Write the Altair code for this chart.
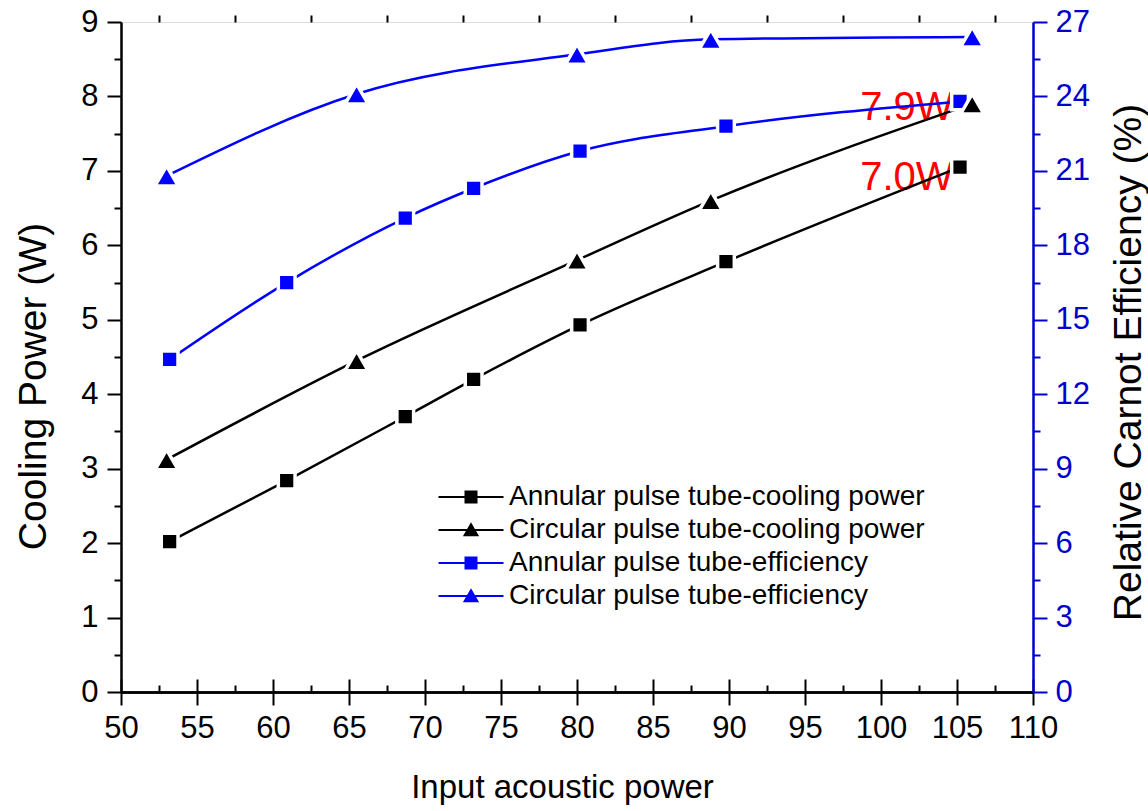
import altair as alt
import pandas as pd

FONT = "Liberation Sans"
BLUE = "#0000ff"
AXIS_BLUE = "#0000cc"

# ---- data ----
power_annular = [53.2, 60.9, 68.7, 73.2, 80.2, 89.8, 105.2]
cooling_annular = [2.02, 2.84, 3.70, 4.20, 4.93, 5.78, 7.05]
eff_annular = [13.4, 16.5, 19.1, 20.3, 21.8, 22.8, 23.8]

power_circular = [53.0, 65.5, 80.0, 88.8, 106.0]
cooling_circular = [3.12, 4.45, 5.80, 6.60, 7.90]
eff_circular = [20.8, 24.1, 25.7, 26.3, 26.4]

series_names = [
    "Annular pulse tube-cooling power",
    "Circular pulse tube-cooling power",
    "Annular pulse tube-efficiency",
    "Circular pulse tube-efficiency",
]
series_colors = ["#000000", "#000000", BLUE, BLUE]

annot_x = [101.7, 101.7]
annot_y = [7.85, 6.9]
annot_text = ["7.9W", "7.0W"]

x_major_ticks = [50, 55, 60, 65, 70, 75, 80, 85, 90, 95, 100, 105, 110]
x_minor_ticks = [52.5, 57.5, 62.5, 67.5, 72.5, 77.5, 82.5, 87.5, 92.5, 97.5, 102.5, 107.5]
yl_major_ticks = [0, 1, 2, 3, 4, 5, 6, 7, 8, 9]
yl_minor_ticks = [0.5, 1.5, 2.5, 3.5, 4.5, 5.5, 6.5, 7.5, 8.5]
yr_major_ticks = [0, 3, 6, 9, 12, 15, 18, 21, 24, 27]
yr_minor_ticks = [1.5, 4.5, 7.5, 10.5, 13.5, 16.5, 19.5, 22.5, 25.5]

# ---- tables ----
rows = []
for px, v in zip(power_annular, cooling_annular):
    rows.append({"power": px, "value": v, "series": series_names[0], "kind": "cool", "marker": "square"})
for px, v in zip(power_circular, cooling_circular):
    rows.append({"power": px, "value": v, "series": series_names[1], "kind": "cool", "marker": "triangle"})
for px, v in zip(power_annular, eff_annular):
    rows.append({"power": px, "value": v, "series": series_names[2], "kind": "eff", "marker": "square"})
for px, v in zip(power_circular, eff_circular):
    rows.append({"power": px, "value": v, "series": series_names[3], "kind": "eff", "marker": "triangle"})
df = pd.DataFrame(rows)

cool = df[df["kind"] == "cool"]
eff = df[df["kind"] == "eff"]
cool_sq = cool[cool["marker"] == "square"]
cool_tr = cool[cool["marker"] == "triangle"]
eff_sq = eff[eff["marker"] == "square"]
eff_tr = eff[eff["marker"] == "triangle"]
annot = pd.DataFrame({"x": annot_x, "y": annot_y, "label": annot_text})

W, H = 912, 670
xscale = alt.Scale(domain=[50, 110], nice=False, zero=False)
yl_scale = alt.Scale(domain=[0, 9], nice=False, zero=False)
yr_scale = alt.Scale(domain=[0, 27], nice=False, zero=False)

common_tick = dict(grid=False, tickWidth=2)

ax_x_major = alt.Axis(values=x_major_ticks, title="Input acoustic power", titleFont=FONT,
                      titleFontSize=33, titleFontWeight="normal", titleColor="black",
                      titleX=441, titleY=95, titleBaseline="middle", titleAlign="center",
                      labelFont=FONT, labelFontSize=31, labelColor="black", labelPadding=8,
                      labelFlush=False, labelOverlap=False, tickSize=13, tickColor="black",
                      domainColor="black", domainWidth=2.5, **common_tick)
ax_x_minor = alt.Axis(values=x_minor_ticks, title=None, labels=False, domain=False,
                      tickSize=7, tickColor="black", **common_tick)
ax_x_top_major = alt.Axis(values=x_major_ticks, title=None, labels=False, domain=True,
                          domainColor="black", domainWidth=2.5, offset=-H,
                          tickSize=13, tickColor="black", **common_tick)
ax_x_top_minor = alt.Axis(values=x_minor_ticks, title=None, labels=False, domain=False,
                          offset=-H, tickSize=7, tickColor="black", **common_tick)

ax_yl_major = alt.Axis(values=yl_major_ticks, orient="left", title="Cooling Power (W)",
                       titleFont=FONT, titleFontSize=39, titleFontWeight="normal",
                       titleColor="black", titleAngle=270, titleX=-88, titleY=364,
                       titleBaseline="middle", titleAlign="center",
                       labelFont=FONT, labelFontSize=31, labelColor="black", labelPadding=9,
                       labelFlush=False, labelOverlap=False, tickSize=14, tickColor="black",
                       domainColor="black", domainWidth=2.5, **common_tick)
ax_yl_minor = alt.Axis(values=yl_minor_ticks, orient="left", title=None, labels=False,
                       domain=False, tickSize=7, tickColor="black", **common_tick)
ax_yr_major = alt.Axis(values=yr_major_ticks, orient="right", title="Relative Carnot Efficiency (%)",
                       titleFont=FONT, titleFontSize=39, titleFontWeight="normal",
                       titleColor="black", titleAngle=270, titleX=95, titleY=340,
                       titleBaseline="middle", titleAlign="center",
                       labelFont=FONT, labelFontSize=31, labelColor=AXIS_BLUE, labelPadding=8,
                       labelFlush=False, labelOverlap=False, tickSize=14, tickColor=AXIS_BLUE,
                       domainColor=AXIS_BLUE, domainWidth=2.5, **common_tick)
ax_yr_minor = alt.Axis(values=yr_minor_ticks, orient="right", title=None, labels=False,
                       domain=False, tickSize=7, tickColor=AXIS_BLUE, **common_tick)


def X(axis, field="power:Q"):
    return alt.X(field, scale=xscale, axis=axis)


def YL(axis, field="value:Q"):
    return alt.Y(field, scale=yl_scale, axis=axis)


def YR(axis, field="value:Q"):
    return alt.Y(field, scale=yr_scale, axis=axis)


text_layer = alt.Chart(annot).mark_text(color="#ff0000", font=FONT, fontSize=40,
                                        align="center", baseline="middle").encode(
    x=X(None, "x:Q"), y=YL(None, "y:Q"), text="label:N")

black_lines = alt.Chart(cool).mark_line(color="black", strokeWidth=2.5, interpolate="monotone").encode(
    x=X(ax_x_major), y=YL(ax_yl_major), detail="series:N", order="power:Q")
blue_lines = alt.Chart(eff).mark_line(color=BLUE, strokeWidth=2.5, interpolate="monotone").encode(
    x=X(ax_x_minor), y=YR(ax_yr_major), detail="series:N", order="power:Q")

pt = dict(filled=True, opacity=1, stroke="white", strokeWidth=3.5, strokeOpacity=1)
blue_sq = alt.Chart(eff_sq).mark_point(shape="square", size=280, fill=BLUE, **pt).encode(
    x=X(ax_x_top_major), y=YR(ax_yr_minor))
blue_tr = alt.Chart(eff_tr).mark_point(shape="triangle-up", size=540, fill=BLUE, **pt).encode(
    x=X(ax_x_top_minor), y=YR(None))
black_sq = alt.Chart(cool_sq).mark_point(shape="square", size=280, fill="black", **pt).encode(
    x=X(None), y=YL(ax_yl_minor))
black_tr = alt.Chart(cool_tr).mark_point(shape="triangle-up", size=540, fill="black", **pt).encode(
    x=X(None), y=YL(None))

sq_path = "M-5.0,-0.17H5.0V0.17H-5.0Z M-1,-1H1V1H-1Z"
tr_path = "M-5.0,-0.17H5.0V0.17H-5.0Z M0,-1.2L1.25,0.95L-1.25,0.95Z"
legend_paths = [sq_path, tr_path, sq_path, tr_path]

leg = alt.Legend(title=None, orient="none", legendX=336, legendY=461, labelFont=FONT,
                 labelFontSize=28, labelColor="black", labelOffset=24, labelLimit=0,
                 rowPadding=5, padding=0, symbolSize=169, symbolStrokeWidth=0, symbolOpacity=1)
legend_layer = alt.Chart(df).transform_filter("datum.power < 0").mark_point(
    filled=True, opacity=1, size=169).encode(
    color=alt.Color("series:N", scale=alt.Scale(domain=series_names, range=series_colors), legend=leg),
    shape=alt.Shape("series:N", scale=alt.Scale(domain=series_names, range=legend_paths), legend=leg),
)

chart = alt.layer(
    text_layer, black_lines, blue_lines, blue_sq, blue_tr, black_sq, black_tr, legend_layer
).resolve_scale(y="independent").resolve_axis(x="independent", y="independent").properties(
    width=W, height=H,
    padding={"left": 121, "top": 22, "right": 115, "bottom": 119},
    autosize=alt.AutoSizeParams(type="none"),
    background="white",
).configure_view(stroke=None).configure(font=FONT).configure_legend(
    labelFontSize=28, labelLimit=0, labelFont=FONT)

chart.save("out.html", embed_options={"renderer": "svg", "actions": False})
